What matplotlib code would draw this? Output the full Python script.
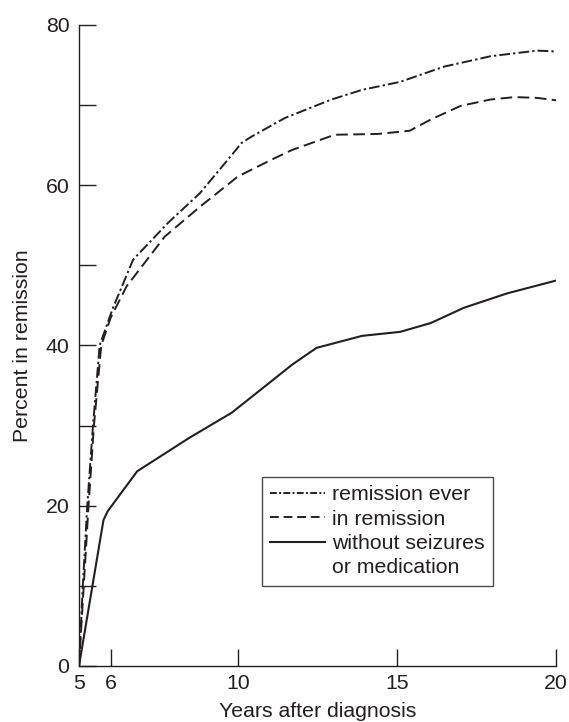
import matplotlib.pyplot as plt
from matplotlib.lines import Line2D

plt.rcParams['font.family'] = ['Liberation Sans', 'DejaVu Sans']

# years after diagnosis / percent in remission
x_ever = [5, 5.12, 5.26, 5.44, 5.65, 6.05, 6.7, 7.8, 8.8, 9.6, 10.12, 10.44,
          11.48, 12.94, 13.9, 15.1, 16.48, 17.94, 19.4, 20]
y_ever = [0, 10, 20, 30, 40, 44.5, 50.7, 55.3, 59, 62.8, 65.3, 66.1,
          68.4, 70.7, 71.9, 72.9, 74.8, 76.1, 76.8, 76.7]

x_in = [5, 5.15, 5.3, 5.47, 5.7, 6.0, 6.5, 7.7, 8.8, 10.0, 11.06, 11.7,
        13.04, 14.4, 15.4, 16.06, 17, 17.94, 18.7, 19.4, 20]
y_in = [0, 10, 20, 30, 40, 43.5, 47.4, 53.6, 57.3, 61.1, 63.2, 64.4,
        66.3, 66.4, 66.8, 68.2, 69.9, 70.7, 71.0, 70.9, 70.6]

x_free = [5, 5.77, 5.9, 6.83, 8.48, 9.8, 11.1, 11.7, 12.47, 13.9, 15.1,
          16.06, 17.1, 18.46, 20]
y_free = [0, 18.2, 19.3, 24.3, 28.5, 31.6, 35.7, 37.6, 39.7, 41.2, 41.7,
          42.8, 44.7, 46.5, 48.1]

labels = ['remission ever', 'in remission', 'without seizures', 'or medication']
xticks = [5, 6, 10, 15, 20]
yticks = list(range(0, 81, 10))
yticklabels = [str(v) if v % 20 == 0 else '' for v in yticks]

ink = '#231f20'
fig = plt.figure(figsize=(5.69, 7.22), dpi=100)
ax = fig.add_axes([0.1388, 0.0776, 0.8384, 0.8878])

ax.plot(x_ever, y_ever, color=ink, lw=1.4, linestyle=(0, (5.5, 1.6, 1.2, 1.6)))
ax.plot(x_in, y_in, color=ink, lw=1.4, linestyle=(0, (6, 2.8)))
ax.plot(x_free, y_free, color=ink, lw=1.5, linestyle='-')

ax.set_xlim(5, 20)
ax.set_ylim(0, 80)
ax.set_xticks(xticks)
ax.set_xticklabels([str(v) for v in xticks])
ax.set_yticks(yticks)
ax.set_yticklabels(yticklabels)
ax.tick_params(axis='both', direction='in', length=12, width=1.0,
               color=ink, labelcolor=ink, labelsize=15.3)
ax.tick_params(axis='y', pad=7)
ax.tick_params(axis='x', pad=6)
for side in ['top', 'right']:
    ax.spines[side].set_visible(False)
for side in ['left', 'bottom']:
    ax.spines[side].set_color(ink)
    ax.spines[side].set_linewidth(1.0)

ax.set_xlabel('Years after diagnosis', fontsize=15.3, color=ink, labelpad=6)
ax.set_ylabel('Percent in remission', fontsize=15.3, color=ink, labelpad=10)

handles = [
    Line2D([], [], color=ink, lw=1.4, linestyle=(0, (3.5, 1.2, 1, 1.2))),
    Line2D([], [], color=ink, lw=1.4, linestyle=(0, (4.5, 2.5))),
    Line2D([], [], color=ink, lw=1.5),
    Line2D([], [], color='none'),
]
leg = ax.legend(handles, labels, loc='lower left', bbox_to_anchor=(0.383, 0.125),
                borderaxespad=0, fontsize=15.3, frameon=True, fancybox=False,
                edgecolor=ink, handlelength=2.6, handletextpad=0.3,
                labelspacing=0.25, borderpad=0.4)
leg.get_frame().set_linewidth(1.0)
for t in leg.get_texts():
    t.set_color(ink)

plt.savefig('out.png', dpi=100)
